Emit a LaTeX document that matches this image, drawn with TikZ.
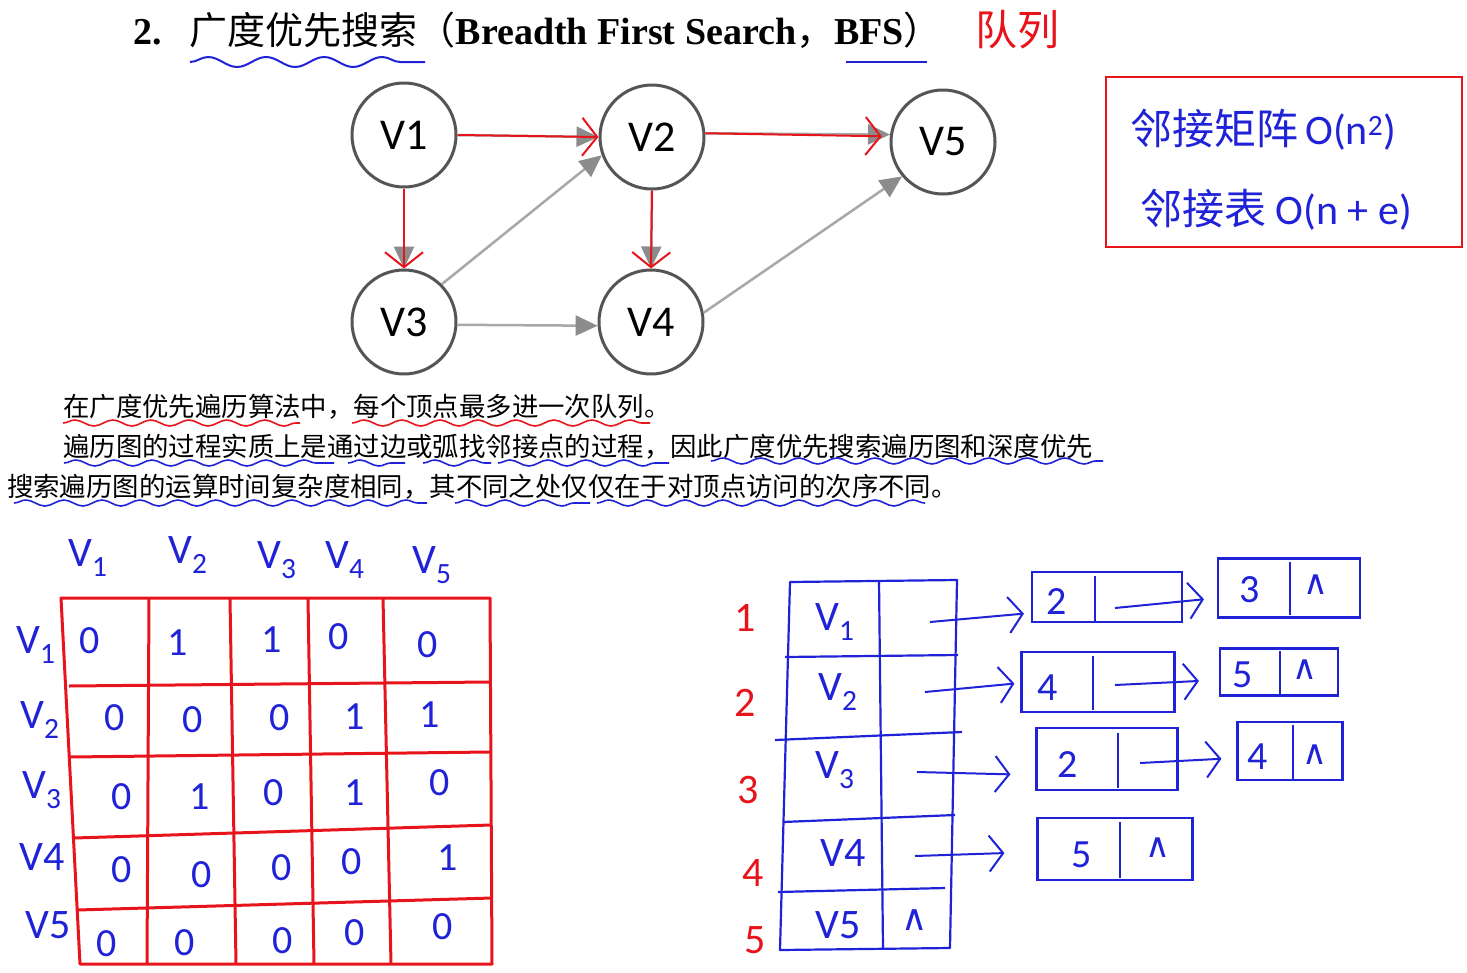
\documentclass[tikz,border=0pt]{standalone}
\usepackage{fontspec}
\setmainfont{Liberation Serif}
\newfontfamily\cjk{Noto Sans CJK SC}
\newfontfamily\lab{Carlito}
\newfontfamily\symf{DejaVu Sans}
\usetikzlibrary{arrows.meta,decorations.pathmorphing}
\definecolor{pen}{HTML}{1F22D6}
\definecolor{rpen}{HTML}{E8141C}
\definecolor{ring}{HTML}{555555}
\definecolor{edgec}{HTML}{A8A8A8}
\definecolor{tipc}{HTML}{8C8C8C}
\begin{document}
\begin{tikzpicture}[x=1pt,y=-1pt,
  vert/.style={circle,draw=ring,line width=3pt,minimum size=104pt,inner sep=0pt,font=\lab\fontsize{44}{44}\selectfont},
  gedge/.style={draw=edgec,line width=2.5pt,-{Triangle[length=22pt,width=20pt,fill=tipc,color=tipc]}},
  redarrow/.style={draw=rpen,line width=2pt,-{Straight Barb[length=15pt,width=38pt,line width=2pt]}},
  penarrow/.style={draw=pen,line width=2pt,-{Straight Barb[length=14pt,width=36pt,line width=2pt]}},
  hw/.style={text=pen,inner sep=0pt,font=\lab\fontsize{42}{42}\selectfont},
  dig/.style={text=pen,inner sep=0pt,font=\lab\fontsize{40}{40}\selectfont},
  nulsym/.style={text=pen,inner sep=0pt,font=\symf\fontsize{34}{34}\selectfont},
  rdig/.style={text=rpen,inner sep=0pt,font=\lab\fontsize{42}{42}\selectfont},
  para/.style={anchor=west,inner sep=0pt,font=\cjk\fontsize{26.4}{26.4}\selectfont},
  gridl/.style={draw=rpen,line width=3pt,line join=round},
  tbl/.style={draw=pen,line width=2.2pt,line join=round},
  lbox/.style={draw=pen,line width=2.2pt,inner sep=0pt},
  wavyb/.style={draw=pen,line width=1.6pt,decorate,decoration={snake,amplitude=3pt,segment length=38pt}},
  wavyr/.style={draw=rpen,line width=1.6pt,decorate,decoration={snake,amplitude=3pt,segment length=38pt}}
]
\useasboundingbox[fill=white] (0,0) rectangle (1467,972);

% ---------- title ----------
\node[anchor=west,inner sep=0pt,font=\fontsize{38}{38}\selectfont] (title) at (133,30)
  {\textbf{2.}\hspace{28pt}{\cjk 广度优先搜索（}\textbf{Breadth First Search}{\cjk ，}\textbf{BFS}{\cjk ）}};
\draw[draw=pen,line width=2pt,decorate,decoration={snake,amplitude=5pt,segment length=58pt}] (190,62) -- (425,62);
\draw[draw=pen,line width=2.5pt] (846,62) -- (927,62);
\node[anchor=west,inner sep=0pt,text=rpen,font=\cjk\fontsize{42}{42}\selectfont] (queue) at (975,30) {队列};

% ---------- graph ----------
\node[vert] (v1) at (404,135) {V1};
\node[vert] (v2) at (652,137) {V2};
\node[vert] (v5) at (943,142) {V5};
\node[vert] (v3) at (404,322) {V3};
\node[vert] (v4) at (651,322) {V4};

\draw[gedge] (v1.east) -- (v2.west);
\draw[gedge] (v2.4) -- (v5.172);
\draw[gedge] (v1.south) -- (v3.north);
\draw[gedge] (v2.south) -- (v4.north);
\draw[gedge] (v3.45) -- (v2.200);
\draw[gedge] (v3.-3) -- (v4.184);
\draw[gedge] (v4.10) -- (v5.220);

\draw[redarrow] (v1.east) -- (v2.west);
\draw[redarrow,shorten >=8pt] (v2.4) -- (v5.174);
\draw[redarrow] (v1.south) -- (v3.north);
\draw[redarrow] (v2.south) -- (v4.north);

% ---------- complexity box ----------
\node[draw=rpen,line width=2pt,minimum width=356pt,minimum height=170pt,inner sep=0pt] (cbox) at (1284,162) {};
\node[hw,anchor=west] (c1) at (1130,130) {{\cjk 邻接矩阵}\,O(n\textsuperscript{2})};
\node[hw,anchor=west] (c2) at (1140,210) {{\cjk 邻接表}\ O(n + e)};

% ---------- paragraph ----------
\node[para] (p1) at (63,407) {在广度优先遍历算法中，每个顶点最多进一次队列。};
\node[para] (p2) at (63,447) {遍历图的过程实质上是通过边或弧找邻接点的过程，因此广度优先搜索遍历图和深度优先};
\node[para] (p3) at (7,487) {搜索遍历图的运算时间复杂度相同，其不同之处仅仅在于对顶点访问的次序不同。};
\draw[wavyr] (63,423) -- (300,423);
\draw[wavyr] (352,423) -- (650,423);
\draw[wavyb] (64,463) -- (334,463);
\draw[wavyb] (348,463) -- (405,463);
\draw[wavyb] (423,463) -- (491,463);
\draw[wavyb] (498,463) -- (669,463);
\draw[wavyb] (711,461) -- (1103,461);
\draw[wavyb] (14,503) -- (427,503);
\draw[wavyb] (455,503) -- (590,503);
\draw[wavyb] (597,503) -- (925,503);

% ---------- adjacency matrix ----------
\draw[gridl] (61,598) -- (490,598) -- (492,964) -- (80,964) -- cycle;
\draw[gridl] (149,598) -- (147,964);
\draw[gridl] (230,598) -- (236,964);
\draw[gridl] (308,598) -- (314,964);
\draw[gridl] (383,598) -- (391,964);
\draw[gridl] (69,686) -- (490,682);
\draw[gridl] (70,757) -- (490,752);
\draw[gridl] (74,838) -- (491,825);
\draw[gridl] (77,910) -- (492,898);

\node[hw] (h1) at (88,558) {V\textsubscript{1}};
\node[hw] (h2) at (188,555) {V\textsubscript{2}};
\node[hw] (h3) at (277,560) {V\textsubscript{3}};
\node[hw] (h4) at (345,560) {V\textsubscript{4}};
\node[hw] (h5) at (432,565) {V\textsubscript{5}};
\node[hw] (r1) at (36,645) {V\textsubscript{1}};
\node[hw] (r2) at (40,720) {V\textsubscript{2}};
\node[hw] (r3) at (42,790) {V\textsubscript{3}};
\node[hw] (r4) at (42,857) {V4};
\node[hw] (r5) at (48,925) {V5};

\foreach \x/\y/\d [count=\k] in {
  90/641/0,178/643/1,272/640/1,339/637/0,428/645/0,
  115/718/0,193/720/0,280/718/0,355/717/1,430/715/1,
  122/797/0,200/797/1,274/793/0,355/793/1,440/783/0,
  122/870/0,202/875/0,282/868/0,352/862/0,448/858/1,
  107/944/0,185/943/0,283/941/0,355/933/0,443/927/0}
  \node[dig] (m\k) at (\x,\y) {\d};

% ---------- adjacency list ----------
\draw[tbl] (790,582) -- (957,580) -- (950,948) -- (780,950) -- cycle;
\draw[tbl] (879,580) -- (883,948);
\draw[tbl] (785,657) -- (958,655);
\draw[tbl] (775,740) -- (962,732);
\draw[tbl] (783,822) -- (955,815);
\draw[tbl] (778,892) -- (945,888);

\node[hw] (t1) at (835,622) {V\textsubscript{1}};
\node[hw] (t2) at (838,692) {V\textsubscript{2}};
\node[hw] (t3) at (835,770) {V\textsubscript{3}};
\node[hw] (t4) at (843,853) {V4};
\node[hw] (t5) at (838,925) {V5};
\node[nulsym,font=\symf\fontsize{36}{36}\selectfont] (t5n) at (915,920) {∧};

\node[rdig] (i1) at (745,618) {1};
\node[rdig] (i2) at (745,703) {2};
\node[rdig] (i3) at (748,790) {3};
\node[rdig] (i4) at (753,873) {4};
\node[rdig] (i5) at (755,940) {5};

% list nodes
\node[lbox,minimum width=150pt,minimum height=50pt] (a1) at (1107,597) {};
\node[lbox,minimum width=142pt,minimum height=59pt] (b1) at (1289,588) {};
\node[lbox,minimum width=153pt,minimum height=60pt] (a2) at (1098,682) {};
\node[lbox,minimum width=118pt,minimum height=47pt] (b2) at (1279,672) {};
\node[lbox,minimum width=141pt,minimum height=62pt] (a3) at (1107,759) {};
\node[lbox,minimum width=105pt,minimum height=58pt] (b3) at (1290,751) {};
\node[lbox,minimum width=155pt,minimum height=62pt] (a4) at (1115,849) {};

\draw[tbl] (1095,576) -- (1095,622);
\draw[tbl] (1290,562) -- (1290,615);
\draw[tbl] (1093,656) -- (1093,710);
\draw[tbl] (1280,651) -- (1280,694);
\draw[tbl] (1118,733) -- (1118,788);
\draw[tbl] (1293,725) -- (1293,779);
\draw[tbl] (1120,822) -- (1120,878);

\node[dig] (d1) at (1057,602) {2};
\node[dig] (e1) at (1250,590) {3};
\node[nulsym] (n1) at (1316,585) {∧};
\node[dig] (d2) at (1048,688) {4};
\node[dig] (e2) at (1243,675) {5};
\node[nulsym] (n2) at (1305,670) {∧};
\node[dig] (d3) at (1068,765) {2};
\node[dig] (e3) at (1258,757) {4};
\node[nulsym] (n3) at (1315,755) {∧};
\node[dig] (d4) at (1082,855) {5};
\node[nulsym] (n4) at (1158,848) {∧};

\coordinate (p1s) at (930,622);
\coordinate (p2s) at (925,692);
\coordinate (p3s) at (917,772);
\coordinate (p4s) at (915,856);
\coordinate (q1s) at (1115,608);
\coordinate (q2s) at (1115,685);
\coordinate (q3s) at (1140,763);

\draw[penarrow,shorten >=7pt] (p1s) -- ([yshift=-16pt]a1.west);
\draw[penarrow,shorten >=6pt] (p2s) -- ([yshift=-1pt]a2.west);
\draw[penarrow,shorten >=25pt] (p3s) -- ([yshift=-16pt]a3.west);
\draw[penarrow,shorten >=32pt] (p4s) -- ([yshift=-3pt]a4.west);
\draw[penarrow,shorten >=13pt] (q1s) -- ([yshift=-10pt]b1.west);
\draw[penarrow,shorten >=20pt] (q2s) -- ([yshift=-8pt]b2.west);
\draw[penarrow,shorten >=15pt] (q3s) -- ([yshift=-7pt]b3.west);
\end{tikzpicture}
\end{document}
